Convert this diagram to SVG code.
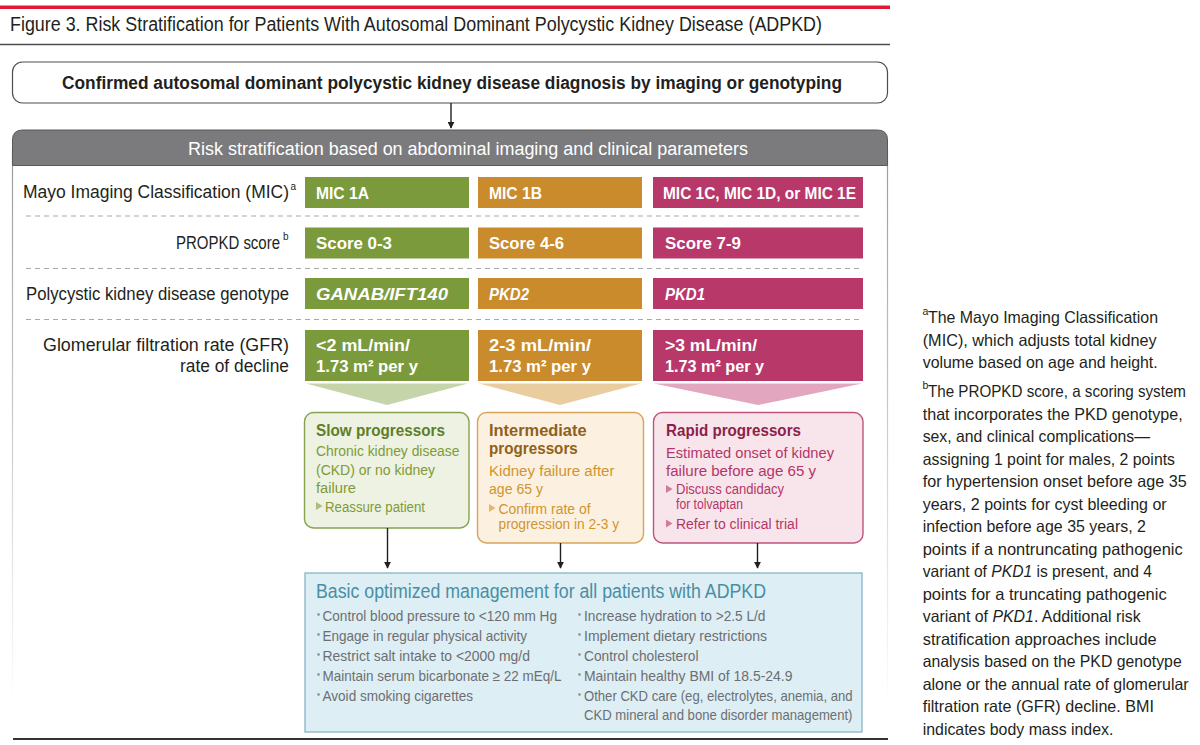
<svg xmlns="http://www.w3.org/2000/svg" width="1200" height="745" viewBox="0 0 1200 745">
<style>
text{font-family:"Liberation Sans",Arial,sans-serif;}
.lbl{font-size:17.5px;fill:#231f20;}
.sup{font-size:10px;fill:#231f20;}
.bx{font-size:17px;font-weight:bold;fill:#fff;}
.it{font-style:italic;}
.dash{stroke:#a7a9ac;stroke-width:1.2;stroke-dasharray:5 4;fill:none;}
.conn{stroke:#231f20;stroke-width:1.4;fill:none;marker-end:url(#ah);}
.g{fill:#7b9a3c;} .o{fill:#c98b2c;} .p{fill:#b8386a;}
.pt{font-size:16.5px;font-weight:bold;}
.pb{font-size:15.5px;}
.pl{font-size:14px;}
.mi{font-size:14.5px;fill:#6d6e71;}
.fn{font-size:16.5px;fill:#231f20;}
.fs{font-size:10.5px;fill:#231f20;}
</style>
<defs>
<marker id="ah" viewBox="0 0 10 10" refX="9" refY="5" markerWidth="7" markerHeight="7" markerUnits="userSpaceOnUse" orient="auto">
<path d="M0,0 L10,5 L0,10 z" fill="#231f20"/>
</marker>
<linearGradient id="side" x1="0" y1="0" x2="0" y2="1">
<stop offset="0" stop-color="#9a9a9a"/>
<stop offset="1" stop-color="#9a9a9a" stop-opacity="0"/>
</linearGradient>
</defs>
<rect x="0" y="0" width="1200" height="745" fill="#fff"/>

<g id="title">
<rect x="0" y="5.5" width="890" height="3.5" fill="#e31837"/>
<text x="10" y="31" font-size="19.5" fill="#231f20" textLength="812" lengthAdjust="spacingAndGlyphs">Figure 3. Risk Stratification for Patients With Autosomal Dominant Polycystic Kidney Disease (ADPKD)</text>
<line x1="0" y1="44.5" x2="890" y2="44.5" stroke="#4d4d4f" stroke-width="1.3"/>
</g>

<g id="confirmed">
<rect x="12.5" y="62" width="875" height="41" rx="10" fill="#fff" stroke="#4d4d4f" stroke-width="1.2"/>
<text x="62" y="89" font-size="18" font-weight="bold" fill="#231f20" textLength="780" lengthAdjust="spacingAndGlyphs">Confirmed autosomal dominant polycystic kidney disease  diagnosis by imaging or genotyping</text>
</g>

<g id="panel">
<rect x="12.5" y="150" width="875" height="560" fill="none" stroke="url(#side)" stroke-width="1.2"/>
<rect x="13" y="700" width="874" height="20" fill="#fff"/>
<path d="M12.5,165.5 V140 Q12.5,130 22.5,130 H877.5 Q887.5,130 887.5,140 V165.5 Z" fill="#7b7b7d" stroke="#58595b" stroke-width="1"/>
<text x="188" y="154.5" font-size="18" fill="#fff" textLength="560" lengthAdjust="spacingAndGlyphs">Risk stratification based on abdominal imaging and clinical parameters</text>
</g>

<g id="row-labels">
<text class="lbl" x="23" y="198" textLength="266" lengthAdjust="spacingAndGlyphs">Mayo Imaging Classification (MIC)</text>
<text class="sup" x="290.5" y="190">a</text>
<text class="lbl" x="176" y="249" textLength="104" lengthAdjust="spacingAndGlyphs">PROPKD score</text>
<text class="sup" x="283" y="240">b</text>
<text class="lbl" x="26" y="300" textLength="263" lengthAdjust="spacingAndGlyphs">Polycystic kidney disease genotype</text>
<text class="lbl" x="43" y="351" textLength="246" lengthAdjust="spacingAndGlyphs">Glomerular filtration rate (GFR)</text>
<text class="lbl" x="180" y="372" textLength="109" lengthAdjust="spacingAndGlyphs">rate of decline</text>
</g>

<g id="dividers">
<line class="dash" x1="26" y1="216" x2="862" y2="216"/>
<line class="dash" x1="26" y1="268.5" x2="862" y2="268.5"/>
<line class="dash" x1="26" y1="319.5" x2="862" y2="319.5"/>
</g>

<g id="mic-1a"><rect class="g" x="305" y="177" width="164" height="31"/><text class="bx" x="316" y="198.5" textLength="53" lengthAdjust="spacingAndGlyphs">MIC 1A</text></g>
<g id="mic-1b"><rect class="o" x="478" y="177" width="164" height="31"/><text class="bx" x="489" y="198.5" textLength="53" lengthAdjust="spacingAndGlyphs">MIC 1B</text></g>
<g id="mic-1cde"><rect class="p" x="653" y="177" width="210" height="31"/><text class="bx" x="663" y="198.5" textLength="193" lengthAdjust="spacingAndGlyphs">MIC 1C, MIC 1D, or MIC 1E</text></g>

<g id="score-0-3"><rect class="g" x="305" y="227.5" width="164" height="31"/><text class="bx" x="316" y="249" textLength="76" lengthAdjust="spacingAndGlyphs">Score 0-3</text></g>
<g id="score-4-6"><rect class="o" x="478" y="227.5" width="164" height="31"/><text class="bx" x="489" y="249" textLength="75" lengthAdjust="spacingAndGlyphs">Score 4-6</text></g>
<g id="score-7-9"><rect class="p" x="653" y="227.5" width="210" height="31"/><text class="bx" x="665" y="249" textLength="76" lengthAdjust="spacingAndGlyphs">Score 7-9</text></g>

<g id="gen-ganab"><rect class="g" x="305" y="278" width="164" height="31"/><text class="bx it" x="316" y="300" textLength="132" lengthAdjust="spacingAndGlyphs">GANAB/IFT140</text></g>
<g id="gen-pkd2"><rect class="o" x="478" y="278" width="164" height="31"/><text class="bx it" x="489" y="300" textLength="40" lengthAdjust="spacingAndGlyphs">PKD2</text></g>
<g id="gen-pkd1"><rect class="p" x="653" y="278" width="210" height="31"/><text class="bx it" x="665" y="300" textLength="40" lengthAdjust="spacingAndGlyphs">PKD1</text></g>

<g id="gfr-slow">
<rect class="g" x="305" y="330" width="164" height="51"/>
<polygon points="306,383.5 468,383.5 387,405" fill="#c6d4aa"/>
<text class="bx" x="316" y="350.5" textLength="94" lengthAdjust="spacingAndGlyphs">&lt;2 mL/min/</text>
<text class="bx" x="316" y="371.5" textLength="102" lengthAdjust="spacingAndGlyphs">1.73 m² per y</text>
</g>
<g id="gfr-intermediate">
<rect class="o" x="478" y="330" width="164" height="51"/>
<polygon points="479,383.5 641,383.5 560,405" fill="#eacd9f"/>
<text class="bx" x="489" y="350.5" textLength="102" lengthAdjust="spacingAndGlyphs">2-3 mL/min/</text>
<text class="bx" x="489" y="371.5" textLength="102" lengthAdjust="spacingAndGlyphs">1.73 m² per y</text>
</g>
<g id="gfr-rapid">
<rect class="p" x="653" y="330" width="210" height="51"/>
<polygon points="654,383.5 862,383.5 758,405" fill="#e2a7bf"/>
<text class="bx" x="665" y="350.5" textLength="92" lengthAdjust="spacingAndGlyphs">&gt;3 mL/min/</text>
<text class="bx" x="665" y="371.5" textLength="99" lengthAdjust="spacingAndGlyphs">1.73 m² per y</text>
</g>

<g id="slow-progressors">
<rect x="304.5" y="412.5" width="164.5" height="115.5" rx="9" fill="#eef2e2" stroke="#86a24f" stroke-width="1.4"/>
<text class="pt" x="316" y="435.5" fill="#5f7f27" textLength="129" lengthAdjust="spacingAndGlyphs">Slow progressors</text>
<text class="pb" x="316" y="456" fill="#7e9b37" textLength="143.5" lengthAdjust="spacingAndGlyphs">Chronic kidney disease</text>
<text class="pb" x="316" y="474.5" fill="#7e9b37" textLength="119" lengthAdjust="spacingAndGlyphs">(CKD) or no kidney</text>
<text class="pb" x="316" y="492.5" fill="#7e9b37" textLength="40" lengthAdjust="spacingAndGlyphs">failure</text>
<polygon points="316,502 322.5,506 316,510" fill="#a9bd7d"/>
<text class="pl" x="325" y="511.5" fill="#7e9b37" textLength="100" lengthAdjust="spacingAndGlyphs">Reassure patient</text>
</g>

<g id="intermediate-progressors">
<rect x="477.5" y="412.5" width="166" height="130.5" rx="9" fill="#fcf1e0" stroke="#d8a458" stroke-width="1.4"/>
<text class="pt" x="489" y="435.5" fill="#8f611b" textLength="97.6" lengthAdjust="spacingAndGlyphs">Intermediate</text>
<text class="pt" x="489" y="454" fill="#8f611b" textLength="88.8" lengthAdjust="spacingAndGlyphs">progressors</text>
<text class="pb" x="489" y="476" fill="#cf952f" textLength="125.5" lengthAdjust="spacingAndGlyphs">Kidney failure after</text>
<text class="pb" x="489" y="494" fill="#cf952f" textLength="54" lengthAdjust="spacingAndGlyphs">age 65 y</text>
<polygon points="489,504 495.5,508 489,512" fill="#e3b66e"/>
<text class="pl" x="498.5" y="513.5" fill="#cf952f" textLength="92" lengthAdjust="spacingAndGlyphs">Confirm rate of</text>
<text class="pl" x="498.5" y="529" fill="#cf952f" textLength="120.5" lengthAdjust="spacingAndGlyphs">progression in 2-3 y</text>
</g>

<g id="rapid-progressors">
<rect x="653.5" y="412.5" width="209.5" height="130.5" rx="9" fill="#f8e5ec" stroke="#c0547e" stroke-width="1.4"/>
<text class="pt" x="666" y="435.5" fill="#8e1f48" textLength="135" lengthAdjust="spacingAndGlyphs">Rapid progressors</text>
<text class="pb" x="666" y="457.5" fill="#b53567" textLength="168" lengthAdjust="spacingAndGlyphs">Estimated onset of kidney</text>
<text class="pb" x="666" y="475.5" fill="#b53567" textLength="150" lengthAdjust="spacingAndGlyphs">failure before age 65 y</text>
<polygon points="666,485 672.5,489 666,493" fill="#d07c9d"/>
<text class="pl" x="676" y="494" fill="#b53567" textLength="108" lengthAdjust="spacingAndGlyphs">Discuss candidacy</text>
<text class="pl" x="676" y="509" fill="#b53567" textLength="67" lengthAdjust="spacingAndGlyphs">for tolvaptan</text>
<polygon points="666,519.5 672.5,523.5 666,527.5" fill="#d07c9d"/>
<text class="pl" x="676" y="529" fill="#b53567" textLength="122" lengthAdjust="spacingAndGlyphs">Refer to clinical trial</text>
</g>

<g id="connectors">
<line class="conn" x1="451" y1="103" x2="451" y2="128"/>
<line class="conn" x1="387.5" y1="528" x2="387.5" y2="568"/>
<line class="conn" x1="560.5" y1="543" x2="560.5" y2="568"/>
<line class="conn" x1="757.5" y1="543" x2="757.5" y2="568"/>
</g>

<g id="management">
<rect x="305" y="573" width="557" height="159" fill="#ddeef5" stroke="#8fbacb" stroke-width="1.4"/>
<text x="316" y="598" font-size="19.5" fill="#4a8ea3" textLength="450" lengthAdjust="spacingAndGlyphs">Basic optimized management for all patients with ADPKD</text>
<g fill="#8a8c8f">
<circle cx="318.5" cy="614.5" r="1.3"/><circle cx="318.5" cy="634.5" r="1.3"/><circle cx="318.5" cy="654.5" r="1.3"/><circle cx="318.5" cy="674.5" r="1.3"/><circle cx="318.5" cy="694.5" r="1.3"/>
<circle cx="579.5" cy="614.5" r="1.3"/><circle cx="579.5" cy="634.5" r="1.3"/><circle cx="579.5" cy="654.5" r="1.3"/><circle cx="579.5" cy="674.5" r="1.3"/><circle cx="579.5" cy="694.5" r="1.3"/>
</g>
<text class="mi" x="322.5" y="621" textLength="234.5" lengthAdjust="spacingAndGlyphs">Control blood pressure to &lt;120 mm Hg</text>
<text class="mi" x="322.5" y="641" textLength="204.5" lengthAdjust="spacingAndGlyphs">Engage in regular physical activity</text>
<text class="mi" x="322.5" y="661" textLength="207.5" lengthAdjust="spacingAndGlyphs">Restrict salt intake to &lt;2000 mg/d</text>
<text class="mi" x="322.5" y="681" textLength="239" lengthAdjust="spacingAndGlyphs">Maintain serum bicarbonate ≥ 22 mEq/L</text>
<text class="mi" x="322.5" y="701" textLength="150.5" lengthAdjust="spacingAndGlyphs">Avoid smoking cigarettes</text>
<text class="mi" x="584" y="621" textLength="181.5" lengthAdjust="spacingAndGlyphs">Increase hydration to &gt;2.5 L/d</text>
<text class="mi" x="584" y="641" textLength="183" lengthAdjust="spacingAndGlyphs">Implement dietary restrictions</text>
<text class="mi" x="584" y="661" textLength="114.5" lengthAdjust="spacingAndGlyphs">Control cholesterol</text>
<text class="mi" x="584" y="681" textLength="208.5" lengthAdjust="spacingAndGlyphs">Maintain healthy BMI of 18.5-24.9</text>
<text class="mi" x="584" y="701" textLength="268.5" lengthAdjust="spacingAndGlyphs">Other CKD care (eg, electrolytes, anemia, and</text>
<text class="mi" x="584" y="720" textLength="268.5" lengthAdjust="spacingAndGlyphs">CKD mineral and bone disorder management)</text>
</g>

<line x1="13" y1="739" x2="888" y2="739" stroke="#333" stroke-width="2"/>

<g id="footnotes">
<text class="fs" x="922.5" y="315">a</text>
<text class="fn" x="928" y="323" textLength="230" lengthAdjust="spacingAndGlyphs">The Mayo Imaging Classification</text>
<text class="fn" x="922.7" y="345.5" textLength="234" lengthAdjust="spacingAndGlyphs">(MIC), which adjusts total kidney</text>
<text class="fn" x="922.7" y="368" textLength="235" lengthAdjust="spacingAndGlyphs">volume based on age and height.</text>
<text class="fs" x="922.5" y="389">b</text>
<text class="fn" x="928" y="397" textLength="258" lengthAdjust="spacingAndGlyphs">The PROPKD score, a scoring system</text>
<text class="fn" x="922.7" y="419.5" textLength="260" lengthAdjust="spacingAndGlyphs">that incorporates the PKD genotype,</text>
<text class="fn" x="922.7" y="442" textLength="227.3" lengthAdjust="spacingAndGlyphs">sex, and clinical complications—</text>
<text class="fn" x="922.7" y="464.5" textLength="252.3" lengthAdjust="spacingAndGlyphs">assigning 1 point for males, 2 points</text>
<text class="fn" x="922.7" y="487" textLength="264" lengthAdjust="spacingAndGlyphs">for hypertension onset before age 35</text>
<text class="fn" x="922.7" y="509.5" textLength="244" lengthAdjust="spacingAndGlyphs">years, 2 points for cyst bleeding or</text>
<text class="fn" x="922.7" y="532" textLength="223.3" lengthAdjust="spacingAndGlyphs">infection before age 35 years, 2</text>
<text class="fn" x="922.7" y="554.5" textLength="260" lengthAdjust="spacingAndGlyphs">points if a nontruncating pathogenic</text>
<text class="fn" x="922.7" y="577" textLength="229.3" lengthAdjust="spacingAndGlyphs">variant of <tspan class="it">PKD1</tspan> is present, and 4</text>
<text class="fn" x="922.7" y="599.5" textLength="244" lengthAdjust="spacingAndGlyphs">points for a truncating pathogenic</text>
<text class="fn" x="922.7" y="622" textLength="218" lengthAdjust="spacingAndGlyphs">variant of <tspan class="it">PKD1</tspan>. Additional risk</text>
<text class="fn" x="922.7" y="644.5" textLength="234" lengthAdjust="spacingAndGlyphs">stratification approaches include</text>
<text class="fn" x="922.7" y="667" textLength="259" lengthAdjust="spacingAndGlyphs">analysis based on the PKD genotype</text>
<text class="fn" x="922.7" y="689.5" textLength="266" lengthAdjust="spacingAndGlyphs">alone or the annual rate of glomerular</text>
<text class="fn" x="922.7" y="712" textLength="231.3" lengthAdjust="spacingAndGlyphs">filtration rate (GFR) decline. BMI</text>
<text class="fn" x="922.7" y="734.5" textLength="190.7" lengthAdjust="spacingAndGlyphs">indicates body mass index.</text>
</g>
</svg>
